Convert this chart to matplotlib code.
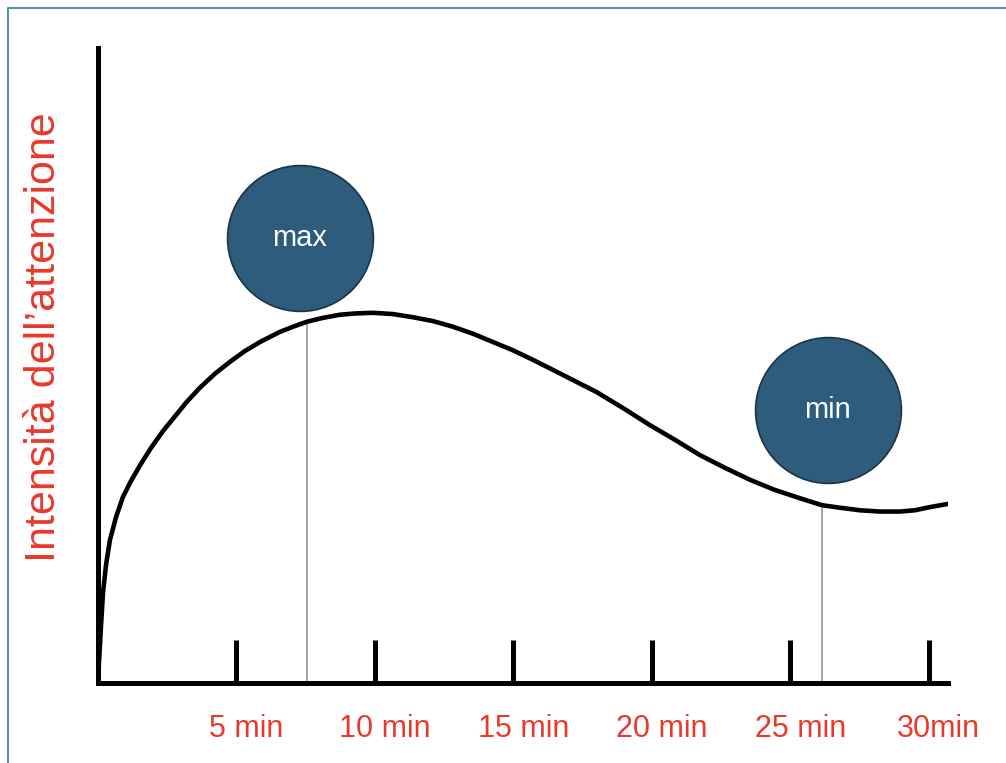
import matplotlib.pyplot as plt
import matplotlib.transforms as mtransforms
from matplotlib.lines import Line2D

plt.rcParams['font.family'] = ['Liberation Sans', 'DejaVu Sans']

# curve: minutes vs. attention intensity (0-100)
minutes = [0, 0.04, 0.11, 0.18, 0.29, 0.43, 0.65, 0.90, 1.19, 1.52, 1.91, 2.35,
           2.78, 3.21, 3.68, 4.22, 4.77, 5.31, 5.85, 6.57, 7.04, 7.55, 8.12,
           8.74, 9.31, 9.93, 10.65, 11.37, 12.09, 12.82, 13.54, 14.26, 14.98,
           15.70, 16.43, 17.15, 18.01, 19.03, 19.93, 20.83, 21.73, 22.63, 23.54,
           24.44, 25.34, 26.14, 26.79, 27.51, 28.23, 28.95, 29.49, 30.04, 30.69]
intensity = [0, 3.6, 9.1, 14.2, 18.6, 22.5, 26.1, 29.3, 31.8, 34.3, 37.0, 39.7,
             42.0, 44.3, 46.5, 48.7, 50.6, 52.3, 53.7, 55.3, 56.1, 56.9, 57.5,
             58.0, 58.2, 58.3, 58.1, 57.6, 57.0, 56.1, 55.0, 53.7, 52.4,
             50.9, 49.3, 47.7, 45.8, 43.1, 40.6, 38.3, 35.9, 33.9, 32.0,
             30.4, 29.1, 28.0, 27.6, 27.2, 27.0, 27.0, 27.2, 27.7, 28.2]

tick_pos = [5, 10, 15, 20, 25, 30]
tick_labels = ['5 min', '10 min', '15 min', '20 min', '25 min', '30min']

# markers: vertical drop lines and labelled bubbles
drop_x = [7.55, 26.14]
drop_y = [56.9, 28.0]
bubble_x = [7.29, 26.35]
bubble_y = [70.1, 43.0]
bubble_text = ['max', 'min']

red = '#e8392c'
blue = '#2d5c7c'

fig = plt.figure(figsize=(10.06, 7.63), dpi=100)
ax = fig.add_axes([98 / 1006, 80 / 763, 850 / 1006, 635 / 763])

ax.vlines(drop_x, 0, drop_y, color='#8c8c8c', linewidth=1.1, zorder=1)
ax.plot(minutes, intensity, color='black', linewidth=3.3, solid_capstyle='round',
        solid_joinstyle='round', zorder=2)

ax.scatter(bubble_x, bubble_y, s=105 ** 2, color=blue, edgecolors='#1b3346',
           linewidths=1.2, zorder=3, clip_on=False)
for bx, by, t in zip(bubble_x, bubble_y, bubble_text):
    ax.text(bx, by, t, color='white', fontsize=21, ha='center', va='center', zorder=4)

ax.set_xlim(0, 30.69)
ax.set_ylim(0, 100)

for side in ['top', 'right']:
    ax.spines[side].set_visible(False)
for side in ['left', 'bottom']:
    ax.spines[side].set_linewidth(3.6)
    ax.spines[side].set_capstyle('projecting')

ax.set_yticks([])
ax.set_xticks(tick_pos)
ax.set_xticklabels(tick_labels)
ax.tick_params(axis='x', direction='in', length=31, width=3.6, color='black',
               labelcolor=red, labelsize=22, pad=22)
offset = mtransforms.ScaledTranslation(10 / 100, 0, fig.dpi_scale_trans)
for lab in ax.get_xticklabels():
    lab.set_transform(lab.get_transform() + offset)

fig.text(44 / 1006, 1 - 337 / 763, 'Intensità dell\u2019attenzione', rotation=90,
         color=red, fontsize=31, ha='center', va='center')

# thin frame at top and left of the image
fig.add_artist(Line2D([8 / 1006, 8 / 1006, 1], [0, 1 - 8 / 763, 1 - 8 / 763],
                      transform=fig.transFigure, color='#5a90aa', linewidth=1.5))

fig.savefig('out.png', dpi=100)
